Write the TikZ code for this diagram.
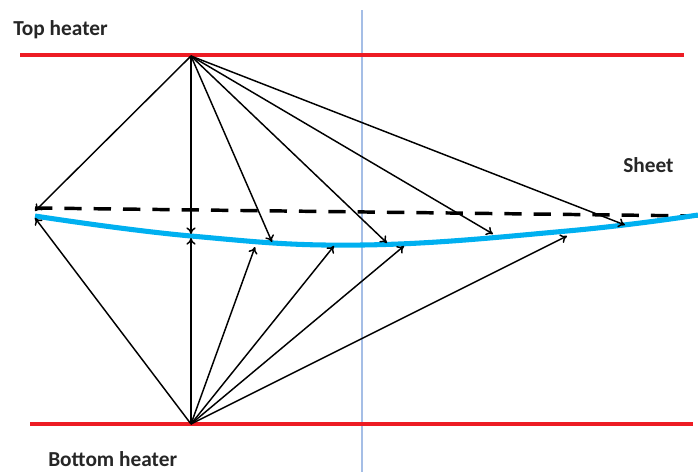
\documentclass[tikz,border=0pt]{standalone}
\usepackage{fontspec}
\setmainfont{Carlito}
\usetikzlibrary{arrows.meta}
\definecolor{heaterred}{RGB}{237,28,36}
\definecolor{sheetblue}{RGB}{0,176,240}
\definecolor{midblue}{RGB}{165,190,230}
\tikzset{
  ray/.style={-{To[length=5pt,width=7pt]},line width=1.1pt},
  heater/.style={heaterred,line width=2.8pt},
  tag/.style={font=\fontsize{16}{19}\selectfont\bfseries,text=black!85,inner sep=0pt,anchor=west}
}

\begin{document}
\begin{tikzpicture}[x=0.75pt,y=-0.75pt]
	\useasboundingbox (0,0) rectangle (698,472);
	\draw[midblue,line width=1pt] (362,10) -- (362,472);
	\draw[heater] (20,55) -- (684,55);
	\draw[heater] (30,424) -- (693,424);
	\node[tag] (toplbl) at (13,30) {Top heater};
	\node[tag] (sheetlbl) at (623,165) {Sheet};
	\node[tag] (botlbl) at (48,459) {Bottom heater};
	% flat sheet and sagged sheet
	\draw[line width=2.6pt,dash pattern=on 13pt off 9pt] (35,208) -- (698,216);
	\draw[sheetblue,line width=3.8pt] plot[smooth,tension=0.7] coordinates {(35,216) (191,236) (362,245) (567,231) (698,215)};
	\coordinate (T) at (191,56);
	\coordinate (B) at (191,424);
	\foreach \x/\y [count=\i] in {35/211,191/234,272/242,387/243,493/234,625/225}
		\coordinate (t\i) at (\x,\y);
	\foreach \x/\y [count=\i] in {35/218,191/238,255/247,334/246,404/246,567/236}
		\coordinate (b\i) at (\x,\y);
	\foreach \i in {1,...,6}
		\draw[ray] (T) -- (t\i);
	\foreach \i in {1,...,6}
		\draw[ray] (B) -- (b\i);
\end{tikzpicture}
\end{document}
